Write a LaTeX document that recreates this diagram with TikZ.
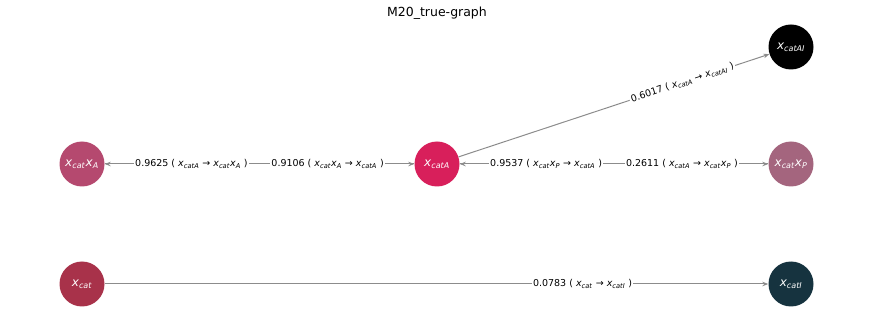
\documentclass[tikz,border=0pt]{standalone}
\usepackage{fontspec}
\setmainfont{DejaVu Sans}
\usepackage{tikz}
\usetikzlibrary{arrows.meta}
\colorlet{edgegray}{black!45}
\definecolor{rosenode}{HTML}{B5496F}
\definecolor{crimsonnode}{HTML}{D81F5B}
\definecolor{mauvenode}{HTML}{A4657E}
\definecolor{winenode}{HTML}{A8324A}
\definecolor{tealnode}{HTML}{16333F}
\newcommand{\nv}[1]{\textit{x}\textsubscript{\textit{#1}}}

\begin{document}
\begin{tikzpicture}[x=1pt, y=1pt, >={Stealth[length=6pt, width=4.5pt]},
    var/.style={circle, minimum size=45pt, inner sep=0pt, text=white, font=\fontsize{12}{14}\selectfont},
    link/.style={->, draw=edgegray, line width=1pt},
    wt/.style={pos=0.72, fill=white, inner sep=1.5pt, font=\fontsize{9.5}{11}\selectfont}]
    \useasboundingbox (0,0) rectangle (873,316);
    \node[font=\fontsize{12.5}{15}\selectfont] (title) at (437,303) {M20\_true-graph};

    \node[var, fill=rosenode] (catxA) at (82,152) {\nv{cat}\nv{A}};
    \node[var, fill=crimsonnode] (catA) at (437,152) {\nv{catA}};
    \node[var, fill=mauvenode] (catxP) at (791,152) {\nv{cat}\nv{P}};
    \node[var, fill=black] (catAI) at (791,269) {\nv{catAI}};
    \node[var, fill=winenode] (cat) at (82,32) {\nv{cat}};
    \node[var, fill=tealnode] (catI) at (791,32) {\nv{catI}};

    % edges first, weights on top
    \draw[link] (catA) -- (catxA);
    \draw[link] (catxA) -- (catA);
    \draw[link] (catxP) -- (catA);
    \draw[link] (catA) -- (catxP);
    \draw[link] (catA) -- (catAI);
    \draw[link] (cat) -- (catI);

    \path (catA) -- (catxA) node[wt] {0.9625 ( \nv{catA} → \nv{cat}\nv{A} )};
    \path (catxA) -- (catA) node[wt] {0.9106 ( \nv{cat}\nv{A} → \nv{catA} )};
    \path (catxP) -- (catA) node[wt] {0.9537 ( \nv{cat}\nv{P} → \nv{catA} )};
    \path (catA) -- (catxP) node[wt] {0.2611 ( \nv{catA} → \nv{cat}\nv{P} )};
    \path (catA) -- (catAI) node[wt, sloped] {0.6017 ( \nv{catA} → \nv{catAI} )};
    \path (cat) -- (catI) node[wt] {0.0783 ( \nv{cat} → \nv{catI} )};
\end{tikzpicture}
\end{document}
